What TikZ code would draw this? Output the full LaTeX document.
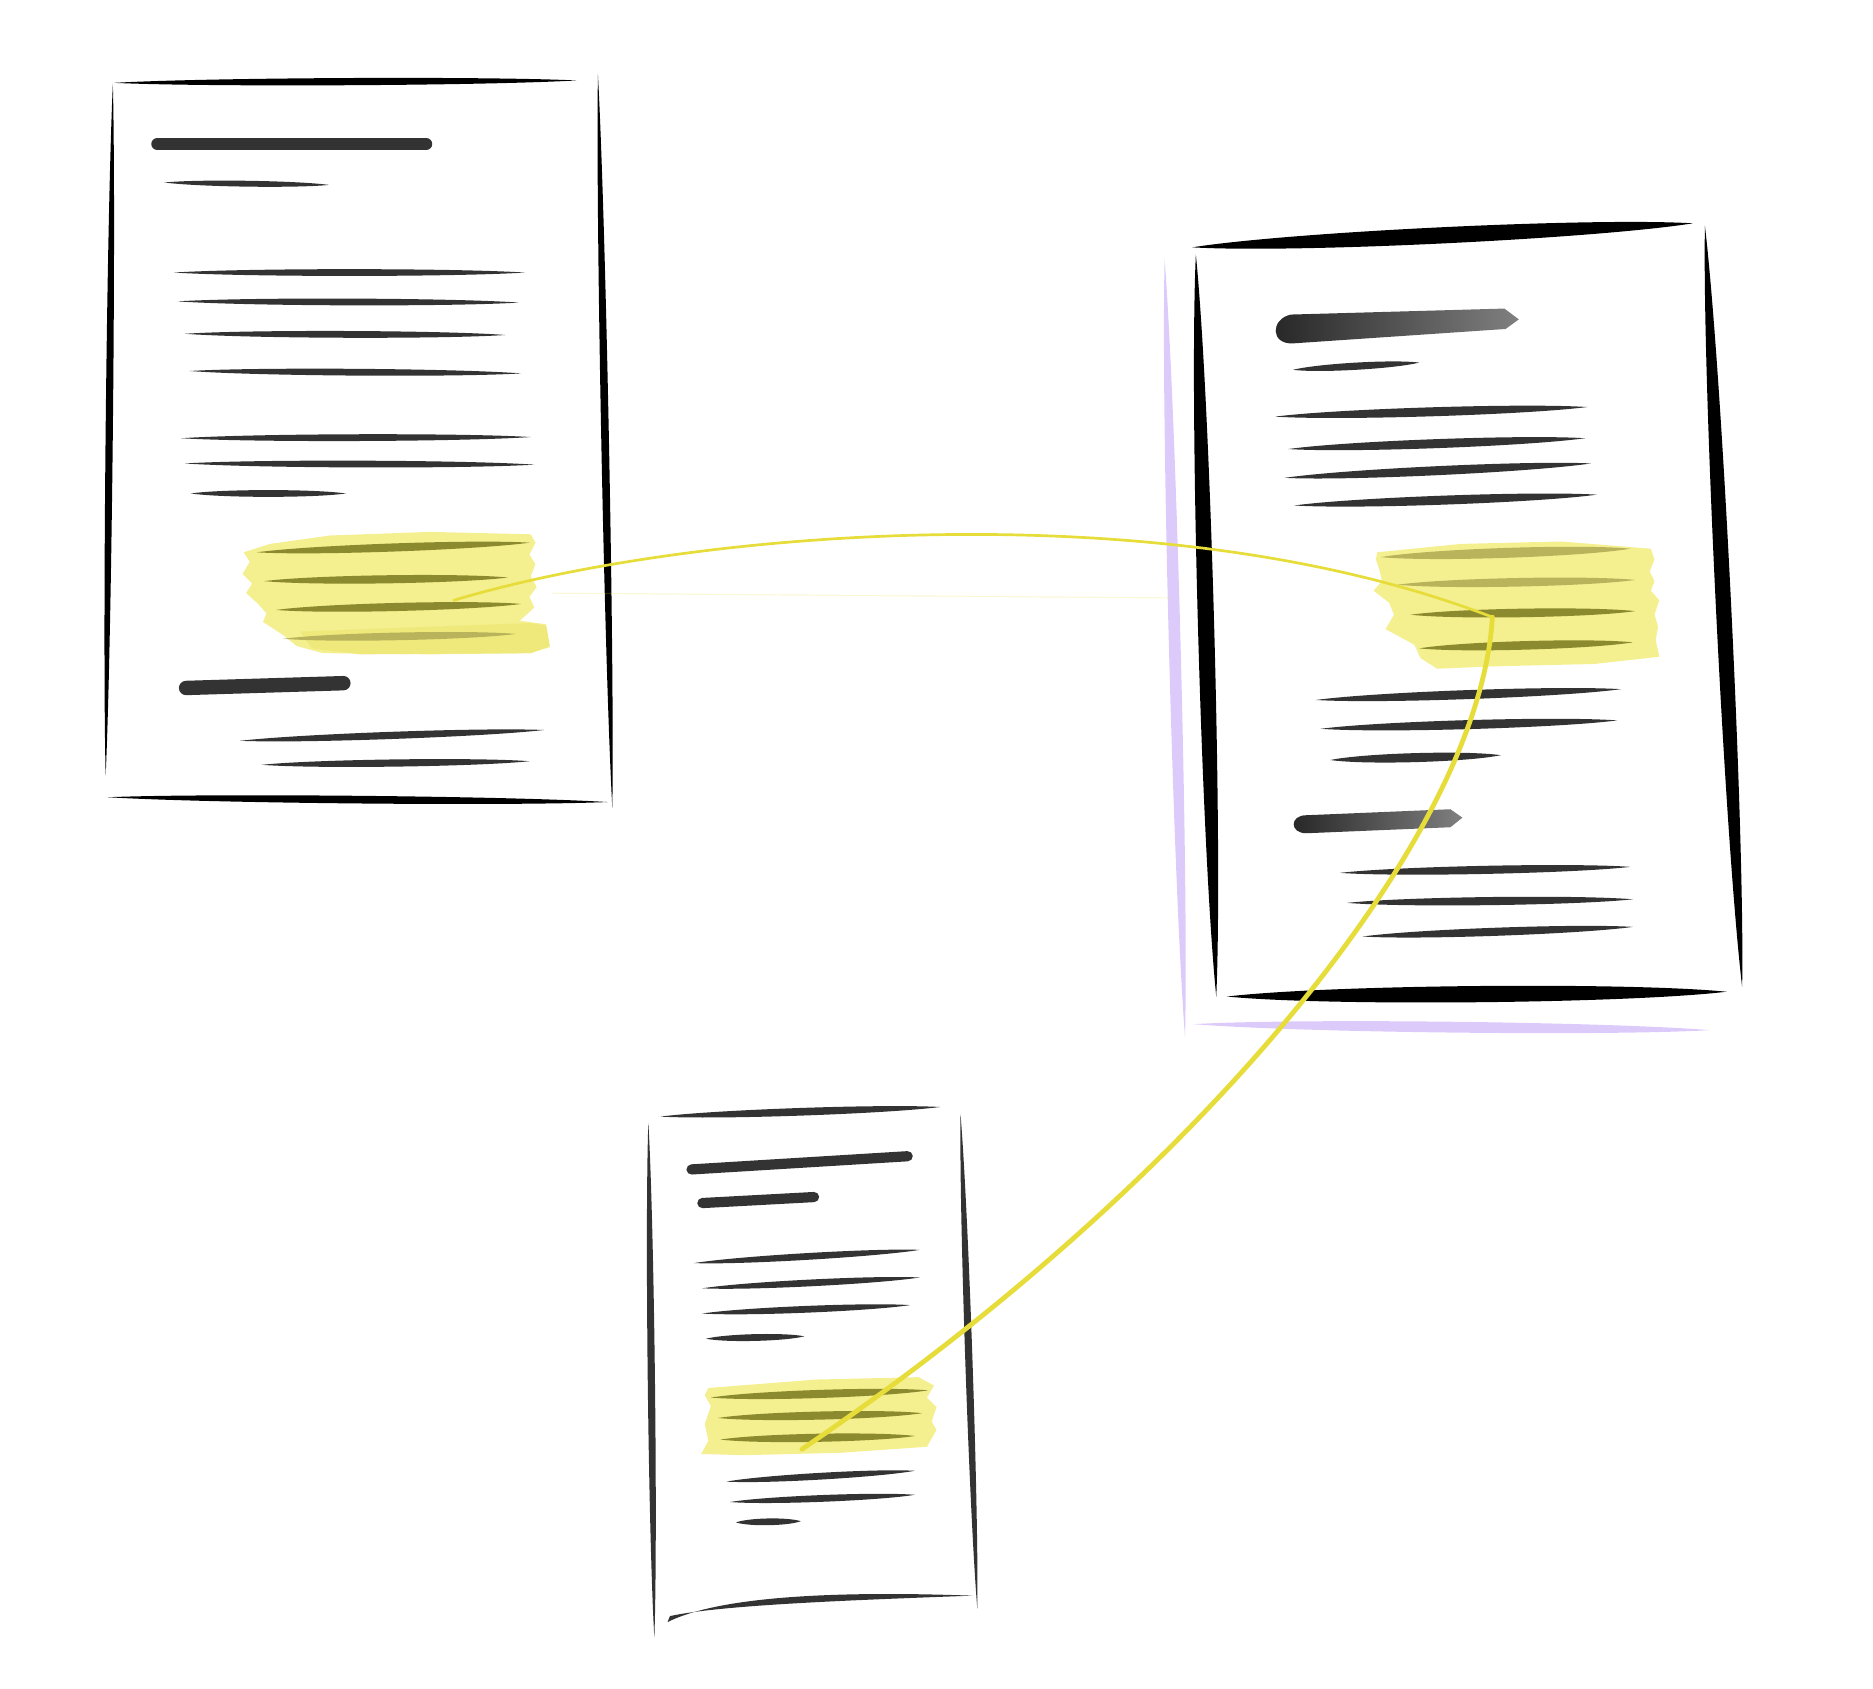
\documentclass[tikz,border=0pt]{standalone}
\usetikzlibrary{calc}
\definecolor{ink}{HTML}{000000}
\definecolor{textgray}{HTML}{333333}
\definecolor{marker}{HTML}{F4EF8F}
\definecolor{markerdeep}{HTML}{EFE97C}
\definecolor{marked}{HTML}{8C8A2E}
\definecolor{markedlight}{HTML}{B9B45C}
\definecolor{lilac}{HTML}{DCCBFA}
\definecolor{linkyellow}{HTML}{E6DC3A}
% brush stroke: [colour]{half width}{from}{to}
\newcommand{\brush}[4][textgray]{\fill[#1] #3 .. controls ($#3!0.2!#4!#2!90:#4$) and ($#4!0.2!#3!#2!-90:#3$) .. #4 .. controls ($#4!0.2!#3!#2!90:#3$) and ($#3!0.2!#4!#2!-90:#4$) .. cycle;}
\tikzset{
  headbar/.style={textgray,line width=#1,line cap=round},
  link/.style={linkyellow,line width=#1,line cap=round}
}
\begin{document}
\begin{tikzpicture}[x=0.2mm,y=-0.2mm]
\useasboundingbox (0,0) rectangle (1560,1406);

% left page
\brush[ink]{0.8mm}{(95,69)}{(480,67)}
\brush[ink]{0.8mm}{(94,70)}{(88,646)}
\brush[ink]{0.85mm}{(498,62)}{(510,673)}
\brush[ink]{0.85mm}{(90,664)}{(506,668)}
\draw[headbar=2mm] (131,120) -- (355,120);
\brush{0.65mm}{(137,152)}{(274,154)}
\brush{0.75mm}{(145,227)}{(437,227)}
\brush{0.75mm}{(148,251)}{(432,252)}
\brush{0.75mm}{(154,278)}{(421,279)}
\brush{0.75mm}{(158,309)}{(434,311)}
\brush{0.75mm}{(151,365)}{(442,364)}
\brush{0.75mm}{(154,386)}{(445,387)}
\brush{0.75mm}{(159,411)}{(288,411)}
\fill[marker] (203,460) -- (225,453) -- (275,446) -- (358,443) -- (442,445) -- (446,452) -- (441,462) -- (446,470) -- (442,480) -- (447,489) -- (441,497) -- (445,506) -- (433,517) -- (455,520) -- (452,530) -- (458,539) -- (442,544) -- (358,545) -- (269,544) -- (247,538) -- (236,529) -- (219,518) -- (222,511) -- (215,503) -- (205,494) -- (210,486) -- (202,478) -- (208,468) -- cycle;
\fill[markerdeep] (250,526) -- (440,519) -- (455,521) -- (458,538) -- (442,544) -- (300,545) -- (260,540) -- cycle;
\brush[marked]{0.9mm}{(214,460)}{(441,452)}
\brush[marked]{0.9mm}{(220,484)}{(423,481)}
\brush[marked]{0.9mm}{(230,508)}{(434,503)}
\brush[markedlight]{0.85mm}{(236,532)}{(430,528)}
\draw[headbar=2.4mm] (155,573) -- (286,569);
\brush{0.8mm}{(200,617)}{(453,608)}
\brush{0.8mm}{(218,637)}{(441,634)}

% right page
\brush[lilac]{1.3mm}{(970,216)}{(987,864)}
\brush[lilac]{1.2mm}{(994,853)}{(1424,858)}
\brush[ink]{1.8mm}{(993,206)}{(1410,186)}
\brush[ink]{1.8mm}{(996,212)}{(1013,830)}
\brush[ink]{1.7mm}{(1420,188)}{(1451,822)}
\brush[ink]{1.8mm}{(1022,830)}{(1438,826)}
\shade[left color=black!85,right color=black!50] (1075,262) -- (1253,257) -- (1265,266) -- (1254,274) -- (1077,286) .. controls (1058,287) and (1058,266) .. cycle;
\brush{0.8mm}{(1077,308)}{(1182,302)}
\brush{1mm}{(1062,347)}{(1322,339)}
\brush{1mm}{(1073,374)}{(1320,365)}
\brush{1mm}{(1070,398)}{(1325,386)}
\brush{1mm}{(1078,421)}{(1330,412)}
\fill[marker] (1147,460) -- (1217,453) -- (1300,451) -- (1375,457) -- (1378,466) -- (1374,476) -- (1378,484) -- (1375,492) -- (1382,500) -- (1378,512) -- (1381,522) -- (1379,533) -- (1382,547) -- (1328,553) -- (1244,555) -- (1197,557) -- (1183,548) -- (1178,537) -- (1154,524) -- (1161,512) -- (1157,502) -- (1144,492) -- (1151,484) -- (1149,475) -- (1146,466) -- cycle;
\brush[markedlight]{1.1mm}{(1150,464)}{(1358,457)}
\brush[markedlight]{0.95mm}{(1164,487)}{(1362,483)}
\brush[marked]{0.95mm}{(1175,512)}{(1362,509)}
\brush[marked]{0.95mm}{(1182,540)}{(1360,535)}
\brush{1mm}{(1096,583)}{(1350,574)}
\brush{1mm}{(1100,607)}{(1347,600)}
\brush{1mm}{(1108,633)}{(1250,629)}
\shade[left color=black!85,right color=black!50] (1088,679) -- (1208,674) -- (1218,681) -- (1208,689) -- (1088,694) .. controls (1074,694) and (1074,679) .. cycle;
\brush{0.9mm}{(1116,727)}{(1358,722)}
\brush{0.9mm}{(1122,752)}{(1360,749)}
\brush{0.9mm}{(1135,780)}{(1360,772)}

% bottom page
\brush{0.85mm}{(550,930)}{(783,922)}
\brush{0.8mm}{(540,935)}{(545,1364)}
\brush{0.8mm}{(800,928)}{(814,1340)}
\fill[textgray] (556,1351) .. controls (600,1329) and (700,1325) .. (810,1329) .. controls (700,1333) and (600,1337) .. (558,1346) -- cycle;
\draw[headbar=1.7mm] (576,974) -- (756,963);
\draw[headbar=1.7mm] (585,1002) -- (678,997);
\brush{0.75mm}{(578,1052)}{(766,1041)}
\brush{0.75mm}{(585,1073)}{(766,1064)}
\brush{0.75mm}{(585,1094)}{(758,1087)}
\brush{0.75mm}{(588,1115)}{(670,1113)}
\fill[marker] (590,1156) -- (680,1149) -- (765,1147) -- (778,1154) -- (772,1164) -- (780,1172) -- (776,1184) -- (780,1191) -- (772,1205) -- (700,1210) -- (620,1212) -- (584,1211) -- (590,1200) -- (587,1186) -- (592,1171) -- (587,1162) -- cycle;
\brush[marked]{0.9mm}{(592,1164)}{(773,1158)}
\brush[marked]{0.9mm}{(598,1181)}{(768,1177)}
\brush[marked]{0.9mm}{(600,1199)}{(762,1196)}
\brush{0.75mm}{(605,1234)}{(762,1225)}
\brush{0.75mm}{(608,1251)}{(762,1245)}
\brush{0.75mm}{(613,1268)}{(667,1267)}

% links
\coordinate (markA) at (378,500);
\coordinate (markB) at (1243,514);
\coordinate (markC) at (668,1207);
\draw[link=0.2mm,opacity=0.2] (460,494) -- (975,498);
\draw[link=0.45mm] (markA) .. controls (560,445) and (960,405) .. (markB);
\draw[link=0.8mm] (markB) .. controls (1232,700) and (995,985) .. (markC);
\end{tikzpicture}
\end{document}
